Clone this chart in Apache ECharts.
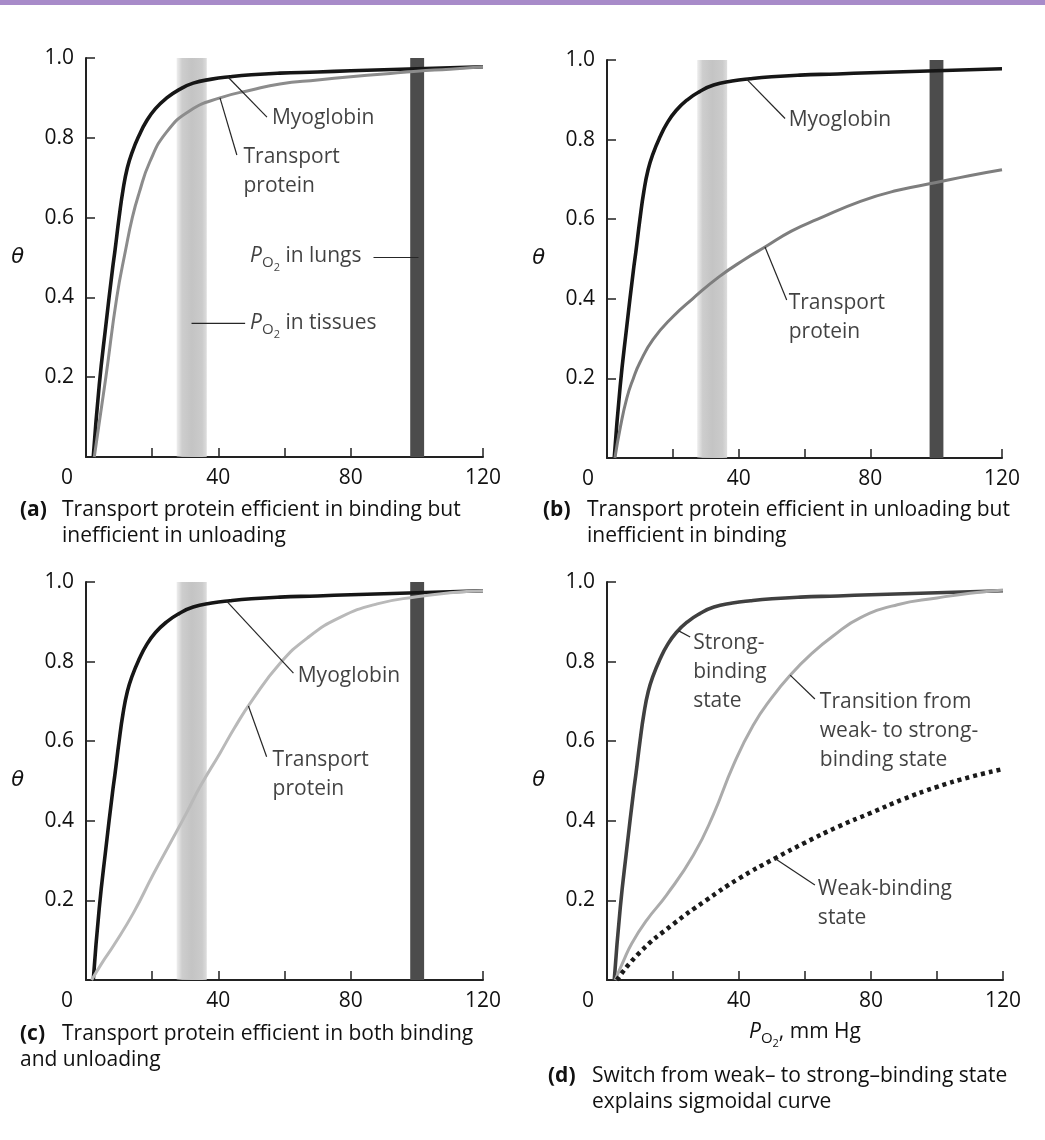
<!DOCTYPE html>
<html>
<head>
<meta charset="utf-8">
<script src="https://cdn.jsdelivr.net/npm/echarts@6.0.0/dist/echarts.min.js"></script>
<style>
  html, body { margin: 0; padding: 0; background: #ffffff; }
  #chart { width: 1045px; height: 1140px; }
</style>
</head>
<body>
<div id="chart"></div>
<script>
// Fractional saturation θ against P_O2 (mm Hg); points are [P_O2, θ]
const myoglobin = [[2.2,0],[4,0.18],[6,0.33],[8,0.47],[8.8,0.52],[10,0.6],[11.2,0.67],[12.5,0.725],[14,0.765],[16,0.805],[18.3,0.842],[21,0.873],[24.4,0.9],[28,0.92],[32.4,0.937],[38,0.947],[43.5,0.953],[50,0.958],[58.6,0.962],[70,0.965],[80,0.968],[100,0.973],[120,0.978]];
const transportA = [[2.5,0],[6,0.2],[9.3,0.4],[12,0.52],[14,0.6],[16,0.66],[19.3,0.74],[24.4,0.815],[31.4,0.868],[40.5,0.9],[50,0.92],[58.6,0.935],[70,0.945],[80,0.953],[90,0.96],[100,0.967],[110,0.972],[120,0.978]];
const transportB = [[2.4,0],[4,0.075],[6,0.15],[8,0.2],[10,0.24],[14,0.298],[20,0.355],[26,0.4],[34,0.455],[42,0.5],[48,0.53],[56,0.57],[64,0.6],[77,0.645],[88,0.672],[100,0.692],[110,0.709],[120,0.724]];
const transportC = [[1.7,0],[5,0.045],[8.3,0.086],[14.3,0.168],[20.3,0.265],[25.4,0.343],[30.4,0.42],[34.5,0.486],[40.5,0.57],[45,0.635],[50,0.7],[58.6,0.795],[67,0.86],[76.8,0.911],[88,0.945],[100,0.963],[110,0.973],[120,0.978]];
const transitionD = [[2.5,0],[5,0.048],[7.5,0.092],[12,0.15],[18.1,0.214],[26.2,0.314],[32.2,0.415],[38.3,0.54],[44.3,0.64],[50,0.71],[55.5,0.766],[62,0.82],[68.6,0.865],[76.7,0.91],[88,0.943],[100,0.96],[110,0.972],[120,0.98]];
const weakD = [[3,0],[10,0.07],[20,0.14],[30,0.2],[40,0.255],[51,0.306],[60,0.345],[70,0.385],[80,0.42],[90,0.455],[100,0.485],[110,0.51],[120,0.53]];

// P_O2 ranges for the tissue and lung bands
const tissueBand = [27.4, 36.5];
const lungBand = [98, 102.2];

// Axis ticks
const xTicks = { min: 0, max: 120, step: 20, labelEvery: 40 };
const yTicks = { min: 0, max: 1, step: 0.2 };

const FONT = "'Open Sans', 'Liberation Sans', Arial, sans-serif";
const INK = '#111111';

// θ on a curve at a given P_O2 (linear between read points)
function onCurve(curve, x) {
  for (let i = 1; i < curve.length; i++) {
    const [x0, y0] = curve[i - 1], [x1, y1] = curve[i];
    if (x <= x1) return y0 + (y1 - y0) * (x - x0) / (x1 - x0);
  }
  return curve[curve.length - 1][1];
}

const subRich = {
  i: { fontStyle: 'italic', fontSize: 21, fontFamily: FONT, color: INK },
  o: { fontSize: 15, fontFamily: FONT, color: INK, padding: [12, 0, 0, 0] },
  t: { fontSize: 11, fontFamily: FONT, color: INK, padding: [22, 0, 0, 0] },
  n: { fontSize: 21, fontFamily: FONT, color: INK }
};

// Annotation text, anchored by its top-left corner in data units,
// with a leader from a point on a curve (or a band) to the text.
const panels = [
  {
    curves: [
      { data: myoglobin, color: '#161616', width: 3.6 },
      { data: transportA, color: '#8c8c8c', width: 3 }
    ],
    bands: true,
    notes: [
      { text: 'Myoglobin', at: [56.2, 0.886], from: [42.9, onCurve(myoglobin, 42.9)], to: [54.7, 0.852] },
      { text: 'Transport\nprotein', at: [47.6, 0.788], from: [40.5, onCurve(transportA, 40.5)], to: [45.6, 0.757] },
      { text: '{i|P}{o|O}{t|2}{n| in lungs}', at: [49.6, 0.539], from: [86.9, 0.5], to: [100.5, 0.5] },
      { text: '{i|P}{o|O}{t|2}{n| in tissues}', at: [49.6, 0.371], from: [31.9, 0.335], to: [48.1, 0.335] }
    ]
  },
  {
    curves: [
      { data: myoglobin, color: '#161616', width: 3.6 },
      { data: transportB, color: '#7e7e7e', width: 3 }
    ],
    bands: true,
    notes: [
      { text: 'Myoglobin', at: [55.2, 0.886], from: [42.4, onCurve(myoglobin, 42.4)], to: [54.1, 0.853] },
      { text: 'Transport\nprotein', at: [55.2, 0.425], from: [48, onCurve(transportB, 48)], to: [54.6, 0.397] }
    ]
  },
  {
    curves: [
      { data: myoglobin, color: '#161616', width: 3.6 },
      { data: transportC, color: '#b9b9b9', width: 3 }
    ],
    bands: true,
    notes: [
      { text: 'Myoglobin', at: [64, 0.799], from: [42.5, onCurve(myoglobin, 42.5)], to: [62.7, 0.771] },
      { text: 'Transport\nprotein', at: [56.4, 0.589], from: [49.1, onCurve(transportC, 49.1)], to: [54.6, 0.561] }
    ]
  },
  {
    curves: [
      { data: myoglobin, color: '#404040', width: 3.6 },
      { data: transitionD, color: '#ababab', width: 3 },
      { data: weakD, color: '#1a1a1a', width: 4.5, dashed: true }
    ],
    bands: false,
    xName: true,
    notes: [
      { text: 'Strong-\nbinding\nstate', at: [26.1, 0.883], from: [21.6, onCurve(myoglobin, 21.6)], to: [25.2, 0.862] },
      { text: 'Transition from\nweak- to strong-\nbinding state', at: [64.5, 0.735], from: [55.5, onCurve(transitionD, 55.5)], to: [63, 0.706] },
      { text: 'Weak-binding\nstate', at: [63.9, 0.265], from: [50.9, onCurve(weakD, 50.9)], to: [63, 0.239] }
    ]
  }
];

const grids = [
  { left: 86, top: 58, width: 397, height: 399 },
  { left: 607, top: 60, width: 395, height: 398 },
  { left: 86, top: 582, width: 397, height: 398 },
  { left: 607, top: 582, width: 396, height: 398 }
];

const captions = [
  { tag: '(a)', tagLeft: 20, body: 'Transport protein efficient in binding but\ninefficient in unloading', bodyLeft: 62, top: 497 },
  { tag: '(b)', tagLeft: 543, body: 'Transport protein efficient in unloading but\ninefficient in binding', bodyLeft: 587, top: 497 },
  { tag: '(c)', tagLeft: 20, body: 'Transport protein efficient in both binding', bodyLeft: 62, top: 1021, tail: 'and unloading', tailLeft: 20 },
  { tag: '(d)', tagLeft: 548, body: 'Switch from weak\u2013 to strong\u2013binding state\nexplains sigmoidal curve', bodyLeft: 592, top: 1063 }
];

const tissueGradient = new echarts.graphic.LinearGradient(0, 0, 1, 0, [
  { offset: 0, color: 'rgba(205,205,205,0.35)' },
  { offset: 0.18, color: 'rgba(200,200,200,0.9)' },
  { offset: 0.5, color: '#c4c4c4' },
  { offset: 0.85, color: '#cbcbcb' },
  { offset: 1, color: 'rgba(212,212,212,0.8)' }
]);

const xAxes = [], yAxes = [], series = [], titles = [];

panels.forEach((p, k) => {
  xAxes.push({
    gridIndex: k, type: 'value',
    min: xTicks.min, max: xTicks.max, interval: xTicks.step,
    axisLine: { show: true, onZero: false, lineStyle: { color: '#222', width: 2 } },
    axisTick: { show: true, inside: true, length: 9, lineStyle: { color: '#222', width: 1.5 } },
    splitLine: { show: false },
    axisLabel: {
      margin: 11, color: INK, fontSize: 21, fontFamily: FONT,
      formatter: v => (v % xTicks.labelEvery === 0 ? (v === 0 ? '{z|0}' : String(v)) : ''),
      rich: { z: { fontSize: 21, fontFamily: FONT, color: INK, padding: [0, 38, 0, 0] } }
    },
    name: p.xName ? '{i|P}{o|O}{t|2}{n|, mm Hg}' : '',
    nameLocation: 'middle', nameGap: 36,
    nameTextStyle: { rich: subRich }
  });
  yAxes.push({
    gridIndex: k, type: 'value',
    min: yTicks.min, max: yTicks.max, interval: yTicks.step,
    axisLine: { show: true, onZero: false, lineStyle: { color: '#222', width: 2 } },
    axisTick: { show: true, inside: true, length: 9, lineStyle: { color: '#222', width: 1.5 } },
    splitLine: { show: false },
    axisLabel: {
      margin: 12, color: INK, fontSize: 21, fontFamily: FONT,
      formatter: v => (v === 0 ? '' : v.toFixed(1))
    },
    name: 'θ', nameLocation: 'middle', nameRotate: 0, nameGap: 62,
    nameTextStyle: { fontStyle: 'italic', fontWeight: 'normal', fontSize: 21, fontFamily: "'DejaVu Sans', sans-serif", color: INK }
  });

  if (p.bands) {
    series.push({
      type: 'line', xAxisIndex: k, yAxisIndex: k, data: [], silent: true, z: 1,
      markArea: {
        silent: true,
        data: [
          [{ xAxis: tissueBand[0], yAxis: 0, itemStyle: { color: tissueGradient } }, { xAxis: tissueBand[1], yAxis: 1 }],
          [{ xAxis: lungBand[0], yAxis: 0, itemStyle: { color: '#4c4c4c' } }, { xAxis: lungBand[1], yAxis: 1 }]
        ]
      }
    });
  }

  p.curves.forEach(c => {
    series.push({
      type: 'line', xAxisIndex: k, yAxisIndex: k, data: c.data,
      showSymbol: false, symbol: 'none', smooth: 0.5, z: 3, silent: true,
      lineStyle: { color: c.color, width: c.width, type: c.dashed ? [4, 4] : 'solid', cap: 'butt', join: 'round' }
    });
  });

  p.notes.forEach(n => {
    series.push({
      type: 'line', xAxisIndex: k, yAxisIndex: k, data: [n.from, n.to],
      showSymbol: false, symbol: 'none', z: 4, silent: true,
      lineStyle: { color: '#262626', width: 1.2 }
    });
    series.push({
      type: 'scatter', xAxisIndex: k, yAxisIndex: k, symbolSize: 0, z: 5, silent: true,
      data: [{ value: n.at }],
      label: {
        show: true, position: [0, 0], align: 'left', verticalAlign: 'top',
        formatter: n.text, fontSize: 21, fontFamily: FONT, color: INK, lineHeight: 29,
        rich: subRich
      }
    });
  });
});

captions.forEach(c => {
  titles.push({
    left: c.tagLeft, top: c.top, padding: 0, text: c.tag,
    textStyle: { fontSize: 21, fontWeight: 'bold', fontFamily: FONT, color: INK, lineHeight: 26 }
  });
  titles.push({
    left: c.bodyLeft, top: c.top, padding: 0, text: c.body,
    textStyle: { fontSize: 21, fontWeight: 'normal', fontFamily: FONT, color: INK, lineHeight: 26 }
  });
  if (c.tail) {
    titles.push({
      left: c.tailLeft, top: c.top + 26, padding: 0, text: c.tail,
      textStyle: { fontSize: 21, fontWeight: 'normal', fontFamily: FONT, color: INK, lineHeight: 26 }
    });
  }
});

const chart = echarts.init(document.getElementById('chart'), null, { renderer: 'canvas' });
chart.setOption({
  backgroundColor: '#ffffff',
  animation: false,
  title: titles,
  grid: grids,
  xAxis: xAxes,
  yAxis: yAxes,
  series: series,
  graphic: [
    { type: 'rect', left: 0, top: 0, shape: { width: 1045, height: 5 }, style: { fill: '#a88bc9' }, silent: true }
  ]
});
</script>
</body>
</html>
